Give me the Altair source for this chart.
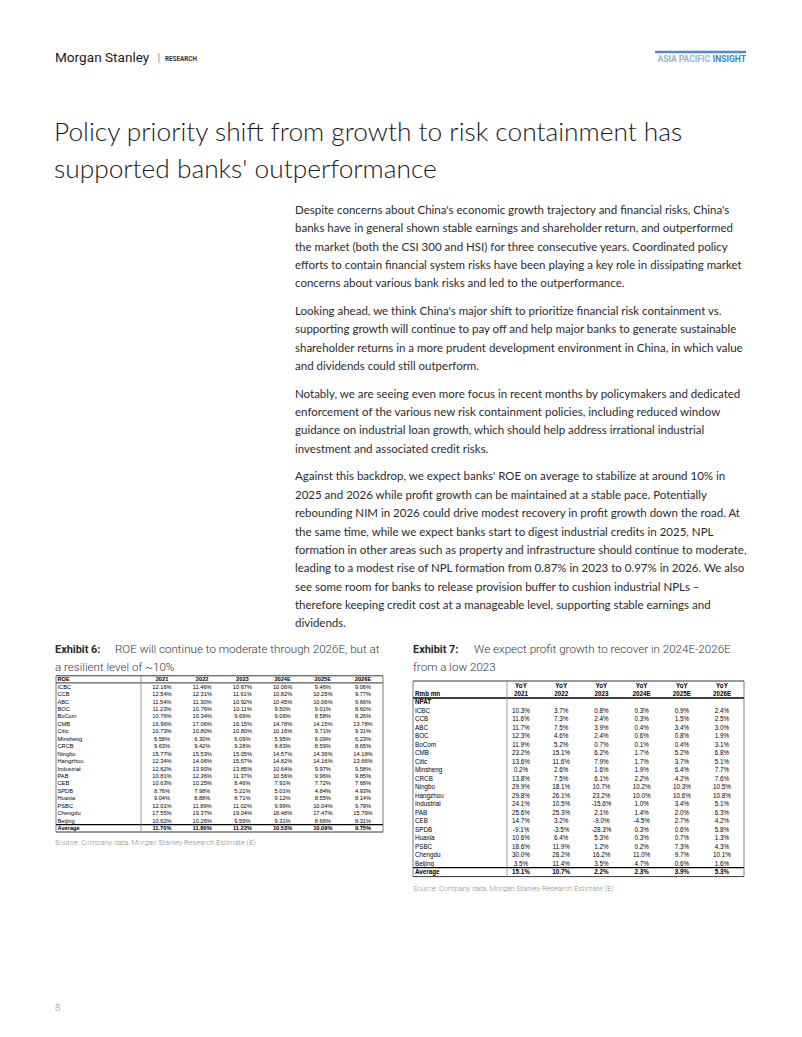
import altair as alt
import pandas as pd

# ---------------- data ----------------
banks = ["ICBC", "CCB", "ABC", "BOC", "BoCom", "CMB", "Citic", "Minsheng", "CRCB",
         "Ningbo", "Hangzhou", "Industrial", "PAB", "CEB", "SPDB", "Huaxia", "PSBC",
         "Chengdu", "Beijing"]
years = ["2021", "2022", "2023", "2024E", "2025E", "2026E"]

# Exhibit 6: ROE (%)
roe_2021 = [12.16, 12.54, 11.54, 11.23, 10.76, 16.96, 10.73, 6.58, 9.63, 15.77, 12.34, 12.62, 10.81, 10.63, 8.76, 9.04, 12.01, 17.55, 10.62]
roe_2022 = [11.46, 12.31, 11.30, 10.76, 10.34, 17.06, 10.80, 6.30, 9.42, 15.53, 14.06, 13.90, 12.36, 10.25, 7.98, 8.88, 11.89, 19.37, 10.26]
roe_2023 = [10.67, 11.61, 10.92, 10.11, 9.69, 16.15, 10.80, 6.09, 9.28, 15.05, 15.57, 13.85, 11.37, 8.46, 5.21, 8.71, 11.02, 19.04, 9.59]
roe_2024E = [10.06, 10.82, 10.45, 9.50, 9.06, 14.78, 10.16, 5.95, 8.83, 14.57, 14.82, 10.64, 10.56, 7.91, 5.01, 9.12, 9.99, 18.48, 9.31]
roe_2025E = [9.46, 10.25, 10.06, 9.01, 8.58, 14.15, 9.71, 6.09, 8.59, 14.36, 14.16, 9.97, 9.96, 7.72, 4.84, 8.55, 10.04, 17.47, 8.66]
roe_2026E = [9.06, 9.77, 9.66, 8.60, 8.26, 13.78, 9.31, 6.23, 8.65, 14.18, 13.66, 9.58, 9.85, 7.68, 4.93, 8.14, 9.79, 15.79, 8.31]
roe_average = [11.70, 11.80, 11.22, 10.53, 10.09, 9.75]

# Exhibit 7: NPAT YoY (%)
yoy_2021 = [10.3, 11.6, 11.7, 12.3, 11.9, 23.2, 13.6, 0.2, 13.8, 29.9, 29.8, 24.1, 25.6, 14.7, -9.1, 10.6, 18.6, 30.0, 3.5]
yoy_2022 = [3.7, 7.3, 7.5, 4.6, 5.2, 15.1, 11.6, 2.6, 7.5, 18.1, 26.1, 10.5, 25.3, 3.2, -3.5, 6.4, 11.9, 28.2, 11.4]
yoy_2023 = [0.8, 2.4, 3.9, 2.4, 0.7, 6.2, 7.9, 1.6, 6.1, 10.7, 23.2, -15.6, 2.1, -9.0, -28.3, 5.3, 1.2, 16.2, 3.5]
yoy_2024E = [0.3, 0.3, 0.4, 0.6, 0.1, 1.7, 1.7, 1.9, 2.2, 10.2, 10.0, 1.0, 1.4, -4.5, 0.3, 0.3, 0.2, 11.0, 4.7]
yoy_2025E = [0.9, 1.5, 3.4, 0.8, 0.4, 5.2, 3.7, 6.4, 4.2, 10.3, 10.6, 3.4, 2.0, 2.7, 0.6, 0.7, 7.3, 9.7, 0.6]
yoy_2026E = [2.4, 2.5, 3.0, 1.9, 3.1, 6.8, 5.1, 7.7, 7.6, 10.5, 10.8, 5.1, 6.3, 4.2, 5.8, 1.3, 4.3, 10.1, 1.6]
yoy_average = [15.1, 10.7, 2.2, 2.3, 3.9, 5.3]

# ---------------- text ----------------
title_lines = ["Policy priority shift from growth to risk containment has",
               "supported banks' outperformance"]
paragraphs = [
    ["Despite concerns about China's economic growth trajectory and financial risks, China's",
     "banks have in general shown stable earnings and shareholder return, and outperformed",
     "the market (both the CSI 300 and HSI) for three consecutive years. Coordinated policy",
     "efforts to contain financial system risks have been playing a key role in dissipating market",
     "concerns about various bank risks and led to the outperformance."],
    ["Looking ahead, we think China's major shift to prioritize financial risk containment vs.",
     "supporting growth will continue to pay off and help major banks to generate sustainable",
     "shareholder returns in a more prudent development environment in China, in which value",
     "and dividends could still outperform."],
    ["Notably, we are seeing even more focus in recent months by policymakers and dedicated",
     "enforcement of the various new risk containment policies, including reduced window",
     "guidance on industrial loan growth, which should help address irrational industrial",
     "investment and associated credit risks."],
    ["Against this backdrop, we expect banks' ROE on average to stabilize at around 10% in",
     "2025 and 2026 while profit growth can be maintained at a stable pace. Potentially",
     "rebounding NIM in 2026 could drive modest recovery in profit growth down the road. At",
     "the same time, while we expect banks start to digest industrial credits in 2025, NPL",
     "formation in other areas such as property and infrastructure should continue to moderate,",
     "leading to a modest rise of NPL formation from 0.87% in 2023 to 0.97% in 2026. We also",
     "see some room for banks to release provision buffer to cushion industrial NPLs \u2013",
     "therefore keeping credit cost at a manageable level, supporting stable earnings and",
     "dividends."],
]
source_text = "Source: Company data, Morgan Stanley Research Estimate (E)"

# ---------------- layout helpers ----------------
M = 8  # page margin
W, H = 786, 1021
PX = alt.Scale(domain=[M, M + W], range=[0, W], nice=False, zero=False)
PY = alt.Scale(domain=[M, M + H], range=[0, H], nice=False, zero=False)


def page_text(rows, align="left", **kw):
    df = pd.DataFrame(rows, columns=["x", "y", "t"])
    return alt.Chart(df).mark_text(align=align, baseline="middle", **kw).encode(
        x=alt.X("x:Q", scale=PX, axis=None),
        y=alt.Y("y:Q", scale=PY, axis=None),
        text="t:N",
    )


layers = []

# header
layers.append(page_text([(55, 58, "Morgan Stanley")], font="Roboto", fontSize=13.6, color="#1a1a1a"))
layers.append(page_text([(157.5, 58, "|")], font="Roboto", fontSize=11, color="#888888"))
layers.append(page_text([(165, 58.5, "RESEARCH")], font="Roboto", fontSize=6.3, fontWeight="bold", color="#333333"))
layers.append(page_text([(710, 58.5, "ASIA PACIFIC")], align="right", font="Roboto", fontSize=8.5, fontWeight="bold", color="#8fb4dc"))
layers.append(page_text([(746, 58.5, "INSIGHT")], align="right", font="Roboto", fontSize=8.5, fontWeight="bold", color="#3b82c6"))
bar = pd.DataFrame({"x": [655], "x2": [746], "y": [52]})
layers.append(alt.Chart(bar).mark_rule(color="#4a8ccc", strokeWidth=2.5).encode(
    x=alt.X("x:Q", scale=PX, axis=None), x2="x2:Q", y=alt.Y("y:Q", scale=PY, axis=None)))

# title
layers.append(page_text([(54, 133 + 37 * i, t) for i, t in enumerate(title_lines)],
                        font="Lato", fontSize=26.3, fontWeight=300, color="#1a1a1a"))

# body
body_rows = []
yy = 211
for p in paragraphs:
    for line in p:
        body_rows.append((295, yy, line))
        yy += 18.35
    yy += 9.3
layers.append(page_text(body_rows, font="Lato", fontSize=11.5, color="#2b2b2b"))

# exhibit captions
layers.append(page_text([(55, 650, "Exhibit 6:"), (413, 650, "Exhibit 7:")], font="Roboto", fontSize=10.9,
                        fontWeight="bold", color="#2a2a2a"))
layers.append(page_text([(115, 650, "ROE will continue to moderate through 2026E, but at"),
                         (55, 668, "a resilient level of ~10%"),
                         (474, 650, "We expect profit growth to recover in 2024E-2026E"),
                         (413, 668, "from a low 2023")], font="Roboto", fontSize=11.6, fontWeight=300,
                        color="#333333"))

# sources & page number
layers.append(page_text([(55, 843, source_text), (413, 889, source_text)], font="Roboto", fontSize=7.4, fontWeight=300, color="#8a8a8a"))
layers.append(page_text([(55, 1008, "8")], font="Roboto", fontSize=9.5, fontWeight=300, color="#8a8a8a"))

# ---------------- tables ----------------
TF = "Liberation Sans"


def table_layers(row_keys, y_first, y_last, x_first, x_last, label_x, fs, cells, labels, bold_rows):
    xs = alt.Scale(type="point", domain=years, range=[x_first - M, x_last - M], padding=0)
    ys = alt.Scale(type="point", domain=row_keys, range=[y_first - M, y_last - M], padding=0)
    out = []
    for bold in (False, True):
        c = cells[cells["row"].isin(bold_rows) == bold]
        if len(c):
            out.append(alt.Chart(c).mark_text(align="center", baseline="middle", font=TF, fontSize=fs,
                                              fontWeight="bold" if bold else "normal", color="#000000").encode(
                x=alt.X("col:N", scale=xs, axis=None),
                y=alt.Y("row:N", scale=ys, axis=None),
                text="label:N"))
        l = labels[labels["row"].isin(bold_rows) == bold]
        if len(l):
            out.append(alt.Chart(l).mark_text(align="left", baseline="middle", font=TF, fontSize=fs,
                                              fontWeight="bold" if bold else "normal", color="#000000").encode(
                x=alt.value(label_x - M),
                y=alt.Y("row:N", scale=ys, axis=None),
                text="label:N"))
    return out


# Exhibit 6 table
roe_cols = [roe_2021, roe_2022, roe_2023, roe_2024E, roe_2025E, roe_2026E]
roe_cells = []
for j, yr in enumerate(years):
    roe_cells.append(("ROE", yr, yr))
    for i, b in enumerate(banks):
        roe_cells.append((b, yr, f"{roe_cols[j][i]:.2f}%"))
    roe_cells.append(("Average", yr, f"{roe_average[j]:.2f}%"))
roe_cells = pd.DataFrame(roe_cells, columns=["row", "col", "label"])
roe_keys = ["ROE"] + banks + ["Average"]
roe_labels = pd.DataFrame({"row": roe_keys, "label": roe_keys})
layers += table_layers(roe_keys, 679.3, 828, 162, 363, 57.5, 5.7, roe_cells, roe_labels, ["ROE", "Average"])

# Exhibit 7 table
yoy_cols = [yoy_2021, yoy_2022, yoy_2023, yoy_2024E, yoy_2025E, yoy_2026E]
yoy_cells = []
for j, yr in enumerate(years):
    yoy_cells.append(("h1", yr, "YoY"))
    yoy_cells.append(("h2", yr, yr))
    for i, b in enumerate(banks):
        yoy_cells.append((b, yr, f"{yoy_cols[j][i]:.1f}%"))
    yoy_cells.append(("Average", yr, f"{yoy_average[j]:.1f}%"))
yoy_cells = pd.DataFrame(yoy_cells, columns=["row", "col", "label"])
yoy_keys = ["h1", "h2", "NPAT"] + banks + ["Average"]
yoy_labels = pd.DataFrame({"row": ["h2", "NPAT"] + banks + ["Average"],
                           "label": ["Rmb mn", "NPAT"] + banks + ["Average"]})
layers += table_layers(yoy_keys, 685.5, 872, 521, 722, 415, 6.3, yoy_cells, yoy_labels, ["h1", "h2", "NPAT", "Average"])

# table borders
borders = pd.DataFrame([
    # exhibit 6
    (56, 383, 675.8, 675.8, 0.8, "#000000"),
    (56, 383, 682.9, 682.9, 0.8, "#000000"),
    (56, 383, 824.6, 824.6, 1.3, "#000000"),
    (56, 383, 832.0, 832.0, 0.8, "#000000"),
    (56, 56, 675.8, 832.0, 0.8, "#555555"),
    (141, 141, 675.8, 832.0, 0.8, "#888888"),
    (383, 383, 675.8, 832.0, 0.8, "#555555"),
    # exhibit 7
    (413, 744, 681.0, 681.0, 0.8, "#000000"),
    (413, 744, 698.0, 698.0, 1.3, "#000000"),
    (413, 744, 867.6, 867.6, 1.3, "#000000"),
    (413, 744, 876.6, 876.6, 0.8, "#000000"),
    (413, 413, 681.0, 876.6, 0.8, "#555555"),
    (507, 507, 681.0, 876.6, 0.8, "#888888"),
    (744, 744, 681.0, 876.6, 0.8, "#555555"),
], columns=["x", "x2", "y", "y2", "w", "c"])
layers.append(alt.Chart(borders).mark_rule().encode(
    x=alt.X("x:Q", scale=PX, axis=None), x2="x2:Q",
    y=alt.Y("y:Q", scale=PY, axis=None), y2="y2:Q",
    strokeWidth=alt.StrokeWidth("w:Q", scale=None),
    color=alt.Color("c:N", scale=None)))

chart = alt.layer(*layers).resolve_scale(x="independent", y="independent").properties(
    width=W, height=H, autosize=alt.AutoSizeParams(type="none"), padding=0, background="#ffffff"
).configure_view(stroke=None)

chart.save("out.html", embed_options={"renderer": "svg", "actions": False})
